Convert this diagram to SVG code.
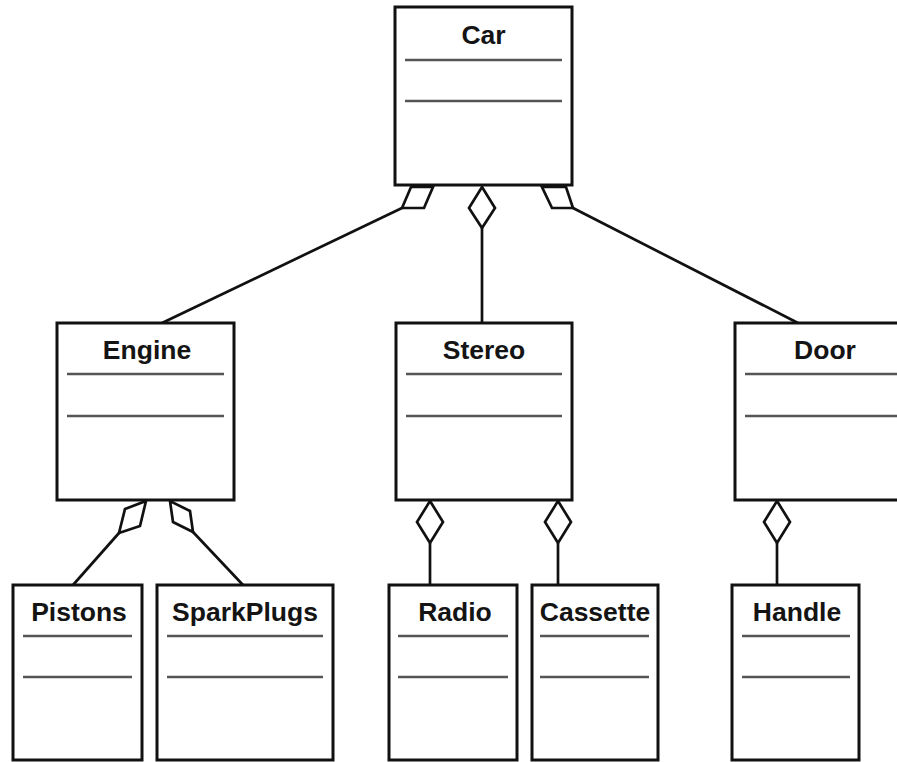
<svg xmlns="http://www.w3.org/2000/svg" width="897" height="762" viewBox="0 0 897 762">
  <style>
    .box { fill: #ffffff; stroke: #111111; stroke-width: 3; }
    .sep { stroke: #555555; stroke-width: 2.5; }
    .name { font-family: "Liberation Sans", Arial, sans-serif; font-weight: bold; font-size: 26.5px; fill: #141414; text-anchor: middle; }
    .link { fill: none; stroke: #111111; stroke-width: 2.7; }
    .agg { fill: #ffffff; stroke: #111111; stroke-width: 2.7; stroke-linejoin: miter; }
  </style>
  <rect width="897" height="762" fill="#ffffff"/>

  <!-- aggregation links: line plus hollow diamond at the whole's side -->
  <g id="connectors">
    <!-- Car to Engine -->
    <line class="link" x1="402" y1="208" x2="162" y2="323"/>
    <polygon class="agg" points="402,208 411,187 433,187 424,208"/>
    <!-- Car to Stereo -->
    <line class="link" x1="482" y1="228" x2="482" y2="323"/>
    <polygon class="agg" points="482,187 495,208 482,228 469,208"/>
    <!-- Car to Door -->
    <line class="link" x1="573" y1="208" x2="798" y2="323"/>
    <polygon class="agg" points="573,208 552,208 542,187 566,187"/>
    <!-- Engine to Pistons -->
    <line class="link" x1="119" y1="533" x2="73" y2="585"/>
    <polygon class="agg" points="119,533 125,509 146,501 140,526"/>
    <!-- Engine to SparkPlugs -->
    <line class="link" x1="193" y1="532" x2="243" y2="585"/>
    <polygon class="agg" points="193,532 173,522 170,501 190,511"/>
    <!-- Stereo to Radio -->
    <line class="link" x1="430" y1="543" x2="430" y2="585"/>
    <polygon class="agg" points="430,501 443,522 430,543 417,522"/>
    <!-- Stereo to Cassette -->
    <line class="link" x1="558" y1="543" x2="558" y2="585"/>
    <polygon class="agg" points="558,501 571,522 558,543 545,522"/>
    <!-- Door to Handle -->
    <line class="link" x1="777" y1="543" x2="777" y2="585"/>
    <polygon class="agg" points="777,501 790,522 777,543 764,522"/>
  </g>

  <g id="car">
    <rect class="box" x="395" y="7" width="177" height="178"/>
    <text class="name" x="483.5" y="44">Car</text>
    <line class="sep" x1="405" y1="60" x2="562" y2="60"/>
    <line class="sep" x1="405" y1="101" x2="562" y2="101"/>
  </g>

  <g id="engine">
    <rect class="box" x="57" y="323" width="177" height="177"/>
    <text class="name" x="147" y="359">Engine</text>
    <line class="sep" x1="67" y1="374" x2="224" y2="374"/>
    <line class="sep" x1="67" y1="416" x2="224" y2="416"/>
  </g>

  <g id="stereo">
    <rect class="box" x="396" y="323" width="176" height="177"/>
    <text class="name" x="484" y="359">Stereo</text>
    <line class="sep" x1="406" y1="374" x2="562" y2="374"/>
    <line class="sep" x1="406" y1="416" x2="562" y2="416"/>
  </g>

  <g id="door">
    <rect class="box" x="735" y="323" width="180" height="177"/>
    <text class="name" x="825" y="359">Door</text>
    <line class="sep" x1="745" y1="374" x2="905" y2="374"/>
    <line class="sep" x1="745" y1="416" x2="905" y2="416"/>
  </g>

  <g id="pistons">
    <rect class="box" x="13" y="585" width="129" height="175"/>
    <text class="name" x="79" y="621">Pistons</text>
    <line class="sep" x1="23" y1="636" x2="132" y2="636"/>
    <line class="sep" x1="23" y1="677" x2="132" y2="677"/>
  </g>

  <g id="sparkplugs">
    <rect class="box" x="157" y="585" width="176" height="175"/>
    <text class="name" x="245" y="621">SparkPlugs</text>
    <line class="sep" x1="167" y1="636" x2="323" y2="636"/>
    <line class="sep" x1="167" y1="677" x2="323" y2="677"/>
  </g>

  <g id="radio">
    <rect class="box" x="389" y="585" width="128" height="175"/>
    <text class="name" x="455" y="621">Radio</text>
    <line class="sep" x1="398" y1="636" x2="508" y2="636"/>
    <line class="sep" x1="398" y1="677" x2="508" y2="677"/>
  </g>

  <g id="cassette">
    <rect class="box" x="532" y="585" width="126" height="175"/>
    <text class="name" x="595" y="621">Cassette</text>
    <line class="sep" x1="540" y1="636" x2="649" y2="636"/>
    <line class="sep" x1="540" y1="677" x2="649" y2="677"/>
  </g>

  <g id="handle">
    <rect class="box" x="732" y="585" width="127" height="175"/>
    <text class="name" x="797" y="621">Handle</text>
    <line class="sep" x1="742" y1="636" x2="850" y2="636"/>
    <line class="sep" x1="742" y1="677" x2="850" y2="677"/>
  </g>
</svg>
